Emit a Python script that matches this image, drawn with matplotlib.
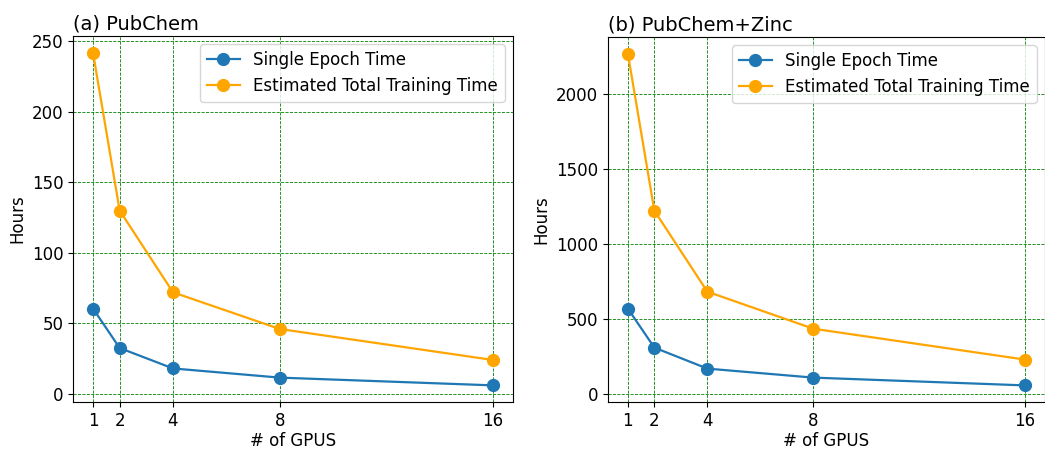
import matplotlib
matplotlib.use("Agg")
import matplotlib.pyplot as plt

gpus = [1, 2, 4, 8, 16]
pubchem_epoch = [60.5, 32.5, 18, 11.5, 6]
pubchem_total = [242, 130, 72, 46, 24]
zinc_epoch = [567, 307, 167, 107, 55]
zinc_total = [2267, 1220, 680, 433, 227]
titles = ["(a) PubChem", "(b) PubChem+Zinc"]

fig = plt.figure(figsize=(10.45, 4.51), dpi=100)
W, H = 1045, 451
ax1 = fig.add_axes([73 / W, (H - 402) / H, 440 / W, 366 / H])
ax2 = fig.add_axes([608 / W, (H - 402) / H, 437 / W, 365 / H])

for ax, ep, tot, title in [(ax1, pubchem_epoch, pubchem_total, titles[0]),
                           (ax2, zinc_epoch, zinc_total, titles[1])]:
    ax.plot(gpus, ep, marker='o', color='#1f77b4', lw=1.6, ms=8.5, label='Single Epoch Time')
    ax.plot(gpus, tot, marker='o', color='orange', lw=1.6, ms=8.5, label='Estimated Total Training Time')
    ax.set_xticks(gpus)
    ax.set_xticklabels([str(g) for g in gpus])
    ax.tick_params(labelsize=12)
    ax.grid(True, color='green', linestyle='--', linewidth=0.6)
    ax.set_xlabel('# of GPUS', fontsize=12, labelpad=2)
    ax.set_ylabel('Hours', fontsize=12)
    ax.set_title(title, loc='left', fontsize=14, pad=5)
    ax.legend(loc='upper right', fontsize=12)

fig.savefig('out.png', dpi=100)
